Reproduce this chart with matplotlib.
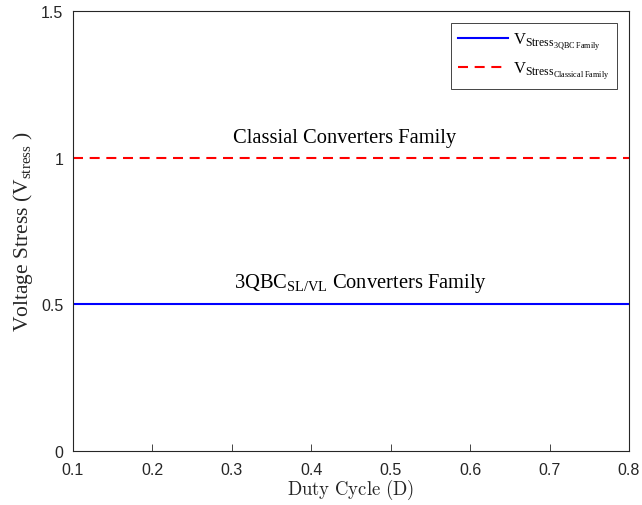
import matplotlib
matplotlib.use("Agg")
import matplotlib.pyplot as plt
import numpy as np

plt.rcParams['mathtext.fontset'] = 'custom'
plt.rcParams['mathtext.rm'] = 'Liberation Serif'
plt.rcParams['mathtext.it'] = 'Liberation Serif:italic'

duty = [0.1, 0.2, 0.3, 0.4, 0.5, 0.6, 0.7, 0.8]
v_3qbc = [0.5, 0.5, 0.5, 0.5, 0.5, 0.5, 0.5, 0.5]
v_classical = [1.0, 1.0, 1.0, 1.0, 1.0, 1.0, 1.0, 1.0]
xticks = [0.1, 0.2, 0.3, 0.4, 0.5, 0.6, 0.7, 0.8]
yticks = [0, 0.5, 1, 1.5]
yticklabels = ['0', '0.5', '1', '1.5']

fig = plt.figure(figsize=(6.42, 5.06), dpi=100)
ax = fig.add_axes([73/642, 1-452/506, (629-73)/642, (452-12)/506])

ax.plot(duty, v_3qbc, color='#0000ff', lw=1.5,
        label=r'$\mathrm{V}_{\mathrm{Stress}_{\mathrm{3QBC\ Family}}}$')
ax.plot(duty, v_classical, color='#ff0000', lw=1.5, ls=(0, (4.8, 3.2)),
        label=r'$\mathrm{V}_{\mathrm{Stress}_{\mathrm{Classical\ Family}}}$')

ax.set_xlim(0.1, 0.8)
ax.set_ylim(0, 1.5)
ax.set_xticks(xticks)
ax.set_xticklabels([f'{t:.1f}' for t in xticks])
ax.set_yticks(yticks)
ax.set_yticklabels(yticklabels)
ax.tick_params(direction='in', length=5, width=0.6, colors='#262626',
               labelsize=11.5, top=False, right=False)
ax.tick_params(axis='x', pad=8)
ax.tick_params(axis='y', pad=7)
for lab in ax.get_xticklabels() + ax.get_yticklabels():
    lab.set_fontfamily('Liberation Sans')
for s in ax.spines.values():
    s.set_color('#262626')
    s.set_linewidth(0.8)

ax.set_xlabel(r'$\mathrm{Duty\ Cycle\ (D)}$', fontsize=13.5,
              color='#262626', labelpad=0, math_fontfamily='cm')
ax.set_ylabel(r'Voltage Stress (V$_{\mathrm{stress}}$ )', family='Liberation Serif', fontsize=15.5,
              color='#262626', labelpad=4)

ax.text(0.442, 1.055, 'Classial Converters Family', family='Liberation Serif', fontsize=14.8,
        ha='center', va='baseline')
ax.text(0.462, 0.558, r'3QBC$_{\mathrm{SL/VL}}$ Converters Family', family='Liberation Serif',
        fontsize=14.8, ha='center', va='baseline')

leg = ax.legend(loc='upper right', prop={'family': 'Liberation Serif', 'size': 12},
                fancybox=False, edgecolor='#262626', framealpha=1,
                handlelength=3.0, handletextpad=0.3, borderaxespad=0.72,
                labelspacing=0.5, borderpad=0.45, bbox_to_anchor=(1.0, 1.0))
leg.get_frame().set_linewidth(0.6)

fig.savefig('out.png', dpi=100)
